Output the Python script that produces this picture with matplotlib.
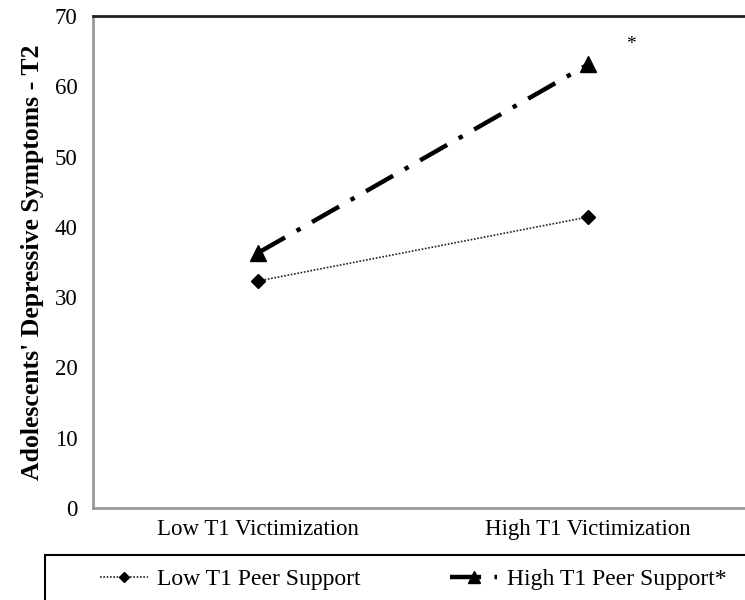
import matplotlib.pyplot as plt
from matplotlib.patches import Rectangle

categories = ["Low T1 Victimization", "High T1 Victimization"]
low_support = [32.3, 41.4]
high_support = [36.3, 63.1]
yticks = [0, 10, 20, 30, 40, 50, 60, 70]

plt.rcParams['font.family'] = ['Liberation Serif', 'DejaVu Serif']

fig = plt.figure(figsize=(7.45, 6.0), dpi=100)
# axes spans 93..753 px horizontally, 16..508 px vertically
ax = fig.add_axes([93 / 745, (600 - 508) / 600, 660 / 745, 492 / 600])

x = range(len(categories))
ax.plot(x, low_support, color="#222222", linestyle=(0, (1, 1)), linewidth=1.2,
        marker="D", markersize=7, markerfacecolor="black", markeredgecolor="black",
        label="Low T1 Peer Support")
ax.plot(x, high_support, color="black", linestyle=(0, (7, 3, 1, 3)), linewidth=3.2,
        marker="^", markersize=12, markerfacecolor="black", markeredgecolor="black",
        label="High T1 Peer Support*")

ax.text(1.13, 65.9, "*", fontsize=14, ha="center", va="center")

ax.set_xlim(-0.5, 1.5)
ax.set_ylim(0, 70)
ax.set_yticks(yticks)
ax.set_xticks(list(x))
ax.set_xticklabels(categories)
ax.tick_params(axis="both", labelsize=16.5, colors="black", length=0, pad=8)
ax.tick_params(axis="y", pad=11)

for s in ["left", "bottom"]:
    ax.spines[s].set_color("#999999")
    ax.spines[s].set_linewidth(2)
ax.spines["top"].set_color("#222222")
ax.spines["top"].set_linewidth(2)
ax.spines["right"].set_visible(False)

ax.set_ylabel("Adolescents' Depressive Symptoms - T2", fontsize=18.5,
              fontweight="bold", labelpad=8)

# legend box along the bottom
fig.patches.append(Rectangle((45 / 745, -0.05), 1.0, 0.05 + (600 - 555) / 600,
                             transform=fig.transFigure, fill=False,
                             edgecolor="black", linewidth=1.5))
handles, labels = ax.get_legend_handles_labels()
fig.legend(handles, labels, loc="center", bbox_to_anchor=(0.555, 0.035),
           ncol=2, frameon=False, fontsize=17, handlelength=2.0,
           columnspacing=3.8, markerscale=0.7, handletextpad=0.4)

fig.savefig("out.png", dpi=100)
